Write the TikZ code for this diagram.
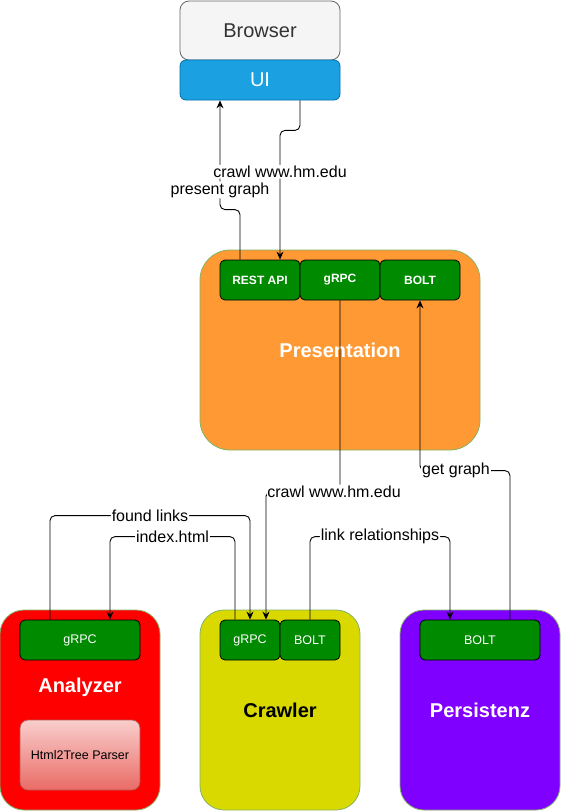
\documentclass[tikz,border=0pt]{standalone}
\usepackage{fontspec}
\setmainfont{Liberation Sans}
\usetikzlibrary{arrows.meta}
\definecolor{portgreen}{HTML}{008A00}
\definecolor{boxline}{HTML}{82B366}
\definecolor{browserfill}{HTML}{F5F5F5}
\definecolor{browserline}{HTML}{666666}
\definecolor{browsertext}{HTML}{333333}
\definecolor{uifill}{HTML}{1BA1E2}
\definecolor{uiline}{HTML}{006EAF}
\definecolor{presfill}{HTML}{FF9933}
\definecolor{anafill}{HTML}{FF0000}
\definecolor{crafill}{HTML}{D9D900}
\definecolor{perfill}{HTML}{7F00FF}
\definecolor{parsertop}{HTML}{F8CECC}
\definecolor{parserbot}{HTML}{EA6B66}
\definecolor{parserline}{HTML}{B85450}
\begin{document}
\begin{tikzpicture}[x=1pt,y=-1pt,
    service/.style={draw=boxline, line width=0.8pt, rounded corners=24pt,
      minimum width=160pt, minimum height=200pt, inner sep=0pt},
    port/.style={draw=black, fill=portgreen, line width=0.8pt, rounded corners=5pt,
      minimum height=40pt, inner sep=0pt, text=white, font=\fontsize{12.5}{14}\selectfont},
    title/.style={font=\bfseries\fontsize{20}{24}\selectfont, text=white},
    lbl/.style={fill=white, inner sep=1pt, font=\fontsize{16}{18}\selectfont},
    link/.style={draw, line width=0.9pt, rounded corners=5pt,
      -{Stealth[length=8pt,width=7pt]}}]
    \useasboundingbox (0,0) rectangle (562,812);
    % browser and ui
    \node[draw=browserline, fill=browserfill, line width=0.8pt, rounded corners=9pt,
      minimum width=160pt, minimum height=59pt, text=browsertext,
      font=\fontsize{20}{24}\selectfont] (browser) at (260,30.5) {Browser};
    \node[draw=uiline, fill=uifill, line width=0.8pt, rounded corners=6pt,
      minimum width=160pt, minimum height=40pt, text=white,
      font=\fontsize{20}{24}\selectfont] (ui) at (260,80) {UI};
    % presentation
    \node[service, fill=presfill, minimum width=280pt, rounded corners=30pt] (pres) at (340,350) {};
    \node[title] (presT) at (pres) {Presentation};
    \node[port, minimum width=80pt, font=\bfseries\fontsize{12}{14}\selectfont] (rest) at (260,280) {REST API};
    \node[port, minimum width=80pt, font=\bfseries\fontsize{12}{14}\selectfont] (grpcP) at (340,280) {gRPC};
    \node[port, minimum width=80pt, font=\bfseries\fontsize{12}{14}\selectfont] (boltP) at (420,280) {BOLT};
    % analyzer
    \node[service, fill=anafill] (ana) at (80,710) {};
    \node[port, minimum width=120pt] (grpcA) at (80,640) {gRPC};
    \node[title] (anaT) at (80,687) {Analyzer};
    \node[draw=parserline, top color=parsertop, bottom color=parserbot, line width=0.8pt,
      rounded corners=8pt, minimum width=120pt, minimum height=70pt,
      font=\fontsize{12.5}{14}\selectfont] (parser) at (80,755) {Html2Tree Parser};
    % crawler
    \node[service, fill=crafill] (cra) at (280,710) {};
    \node[title, text=black] (craT) at (cra) {Crawler};
    \node[port, minimum width=60pt] (grpcC) at (250,640) {gRPC};
    \node[port, minimum width=60pt] (boltC) at (310,640) {BOLT};
    % persistenz
    \node[service, fill=perfill] (per) at (480,710) {};
    \node[title] (perT) at (per) {Persistenz};
    \node[port, minimum width=120pt] (boltPs) at (480,640) {BOLT};
    % connectors
    \draw[link] ([xshift=-20pt]rest.north) -- ++(0,-50)
      -| node[lbl,pos=0.59] {present graph} ([xshift=-40pt]ui.south);
    \draw[link] ([xshift=40pt]ui.south) -- ++(0,30)
      -| node[lbl,pos=0.66] {crawl www.hm.edu} ([xshift=20pt]rest.north);
    \draw[link] (grpcP.south) -- ++(0,191) node[lbl,xshift=-6pt] {crawl www.hm.edu}
      -| ([xshift=16pt]grpcC.north);
    \draw[link] ([xshift=30pt]boltPs.north) -- ++(0,-149)
      -| node[lbl,pos=0.3] {get graph} (boltP.south);
    \draw[link] ([xshift=-30pt]grpcA.north) -- ++(0,-104)
      -| node[lbl,pos=0.25] {found links} (grpcC.north);
    \draw[link] ([xshift=-15pt]grpcC.north) -- ++(0,-83)
      -| node[lbl,pos=0.25] {index.html} ([xshift=30pt]grpcA.north);
    \draw[link] (boltC.north) -- ++(0,-83)
      -| node[lbl,pos=0.25] {link relationships} ([xshift=-30pt]boltPs.north);
\end{tikzpicture}
\end{document}
